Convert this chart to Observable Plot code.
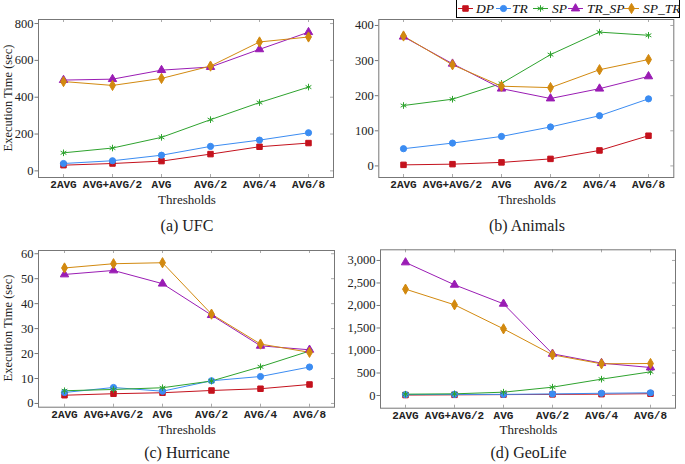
<!DOCTYPE html>
<html><head><meta charset="utf-8">
<script src="https://cdn.jsdelivr.net/npm/d3@7"></script>
<script src="https://cdn.jsdelivr.net/npm/@observablehq/plot@0.6"></script>
<style>
body{margin:0;background:#fff;}
#root{position:relative;width:685px;height:464px;overflow:hidden;font-family:"Liberation Serif",serif;color:#222;}
.panel{position:absolute;}
.lbl{position:absolute;font-size:13px;white-space:nowrap;transform:translate(-50%,-50%);}
.cap{font-size:16px;}
.ylab{font-size:12.5px;transform:translate(-50%,-50%) rotate(-90deg);}
#legend{position:absolute;left:456px;top:0px;}
</style></head><body><div id="root"></div>
<script>
const thresholds = ["2AVG","AVG+AVG/2","AVG","AVG/2","AVG/4","AVG/8"];
const seriesNames = ["DP","TR","SP","TR_SP","SP_TR"];
const seriesColors = ["#c4121d","#3b8cf2","#2ea32e","#9a1cb4","#d2890f"];
const seriesSymbols = ["square","circle","asterisk","triangle","diamond"];

// (a) UFC
const ufcDP   = [31, 40, 53, 91, 131, 151];
const ufcTR   = [40, 55, 85, 133, 167, 207];
const ufcSP   = [98, 124, 182, 278, 371, 455];
const ufcTRSP = [493, 498, 547, 564, 660, 753];
const ufcSPTR = [485, 464, 502, 569, 700, 727];
const ufcTicks = [0, 200, 400, 600, 800];

// (b) Animals
const animalsDP   = [3, 5, 10, 20, 44, 86];
const animalsTR   = [49, 65, 84, 111, 143, 191];
const animalsSP   = [172, 190, 235, 317, 381, 372];
const animalsTRSP = [368, 291, 220, 192, 220, 255];
const animalsSPTR = [370, 288, 227, 223, 274, 303];
const animalsTicks = [0, 100, 200, 300, 400];

// (c) Hurricane
const hurricaneDP   = [3.3, 3.9, 4.3, 5.2, 5.9, 7.6];
const hurricaneTR   = [4.4, 6.4, 4.9, 9.1, 10.8, 14.6];
const hurricaneSP   = [5.1, 5.6, 6.3, 9.0, 14.7, 21.0];
const hurricaneTRSP = [51.7, 53.3, 48.0, 35.4, 23.1, 21.5];
const hurricaneSPTR = [54.3, 56.0, 56.4, 35.8, 23.8, 20.5];
const hurricaneTicks = [0, 10, 20, 30, 40, 50, 60];

// (d) GeoLife
const geolifeDP   = [10, 15, 20, 25, 30, 40];
const geolifeTR   = [20, 25, 25, 35, 50, 60];
const geolifeSP   = [30, 37, 74, 185, 363, 526];
const geolifeTRSP = [2956, 2459, 2037, 926, 719, 622];
const geolifeSPTR = [2363, 2015, 1481, 904, 704, 711];
const geolifeTicks = [0, 500, 1000, 1500, 2000, 2500, 3000];

const root = document.getElementById("root");

function panel(cfg) {
  const rows = [];
  cfg.series.forEach((vals, si) => vals.forEach((v, i) => rows.push({t: thresholds[i], s: seriesNames[si], v})));
  const fw = cfg.width - cfg.ml - cfg.mr, fh = cfg.height - cfg.mt - cfg.mb;
  const svg = Plot.plot({
    width: cfg.width, height: cfg.height,
    marginLeft: cfg.ml, marginRight: cfg.mr, marginTop: cfg.mt, marginBottom: cfg.mb,
    style: {fontFamily: "Liberation Serif", fontSize: "12px", color: "#222", background: "transparent", overflow: "visible"},
    x: {type: "point", domain: thresholds, padding: 0.5},
    y: {domain: cfg.yDomain},
    color: {domain: seriesNames, range: seriesColors},
    symbol: {domain: seriesNames, range: seriesSymbols},
    marks: [
      Plot.tickX(thresholds, {x: d => d, stroke: "#aaa", insetTop: fh - 3}),
      Plot.tickX(thresholds, {x: d => d, stroke: "#aaa", insetBottom: fh - 3}),
      Plot.tickY(cfg.ticks, {y: d => d, stroke: "#aaa", insetLeft: fw - 3}),
      Plot.frame({stroke: "#777"}),
      Plot.axisY({ticks: cfg.ticks, tickSize: 3.5, tickPadding: 1.5, tickFormat: cfg.fmt, label: null, fontSize: 12.5, stroke: "#777"}),
      Plot.axisX({tickSize: 0, tickPadding: 3, label: null, fontFamily: "Liberation Mono", fontWeight: "bold", fontSize: 11}),
      Plot.line(rows, {x: "t", y: "v", z: "s", stroke: "s", strokeWidth: 1}),
      Plot.dot(rows, {x: "t", y: "v", symbol: "s", fill: "s", stroke: "s", strokeWidth: 1, r: 3.1})
    ]
  });
  svg.classList.add("panel");
  svg.style.left = cfg.left + "px";
  svg.style.top = cfg.top + "px";
  svg.style.position = "absolute";
  root.appendChild(svg);
}

function label(text, x, y, cls) {
  const d = document.createElement("div");
  d.className = "lbl " + (cls || "");
  d.textContent = text;
  d.style.left = x + "px";
  d.style.top = y + "px";
  root.appendChild(d);
}

const intFmt = d3.format("d");
const commaFmt = d3.format(",");

panel({series: [ufcDP, ufcTR, ufcSP, ufcTRSP, ufcSPTR], ticks: ufcTicks, fmt: intFmt, yDomain: [-36, 822],
  left: 0, top: 0, width: 342, height: 232, ml: 38, mr: 9, mt: 19, mb: 55});
panel({series: [animalsDP, animalsTR, animalsSP, animalsTRSP, animalsSPTR], ticks: animalsTicks, fmt: intFmt, yDomain: [-33, 417],
  left: 342, top: 0, width: 343, height: 232, ml: 36.3, mr: 11.7, mt: 19, mb: 55});
panel({series: [hurricaneDP, hurricaneTR, hurricaneSP, hurricaneTRSP, hurricaneSPTR], ticks: hurricaneTicks, fmt: intFmt, yDomain: [-1.5, 61.3],
  left: 0, top: 232, width: 342, height: 232, ml: 38, mr: 8, mt: 18, mb: 57.3});
panel({series: [geolifeDP, geolifeTR, geolifeSP, geolifeTRSP, geolifeSPTR], ticks: geolifeTicks, fmt: commaFmt, yDomain: [-282, 3237],
  left: 342, top: 232, width: 343, height: 232, ml: 38, mr: 10, mt: 17.3, mb: 56.3});

label("Thresholds", 187, 199.5);
label("Thresholds", 527, 199.5);
label("Thresholds", 187, 429.5);
label("Thresholds", 528.5, 429.5);
label("(a) UFC", 187, 226, "cap");
label("(b) Animals", 527, 226, "cap");
label("(c) Hurricane", 187, 453, "cap");
label("(d) GeoLife", 528.5, 453, "cap");
label("Execution Time (sec)", 7.5, 98, "ylab");
label("Execution Time (sec)", 7.5, 328, "ylab");

// legend
const symMap = {square: d3.symbolSquare, circle: d3.symbolCircle, asterisk: d3.symbolAsterisk, triangle: d3.symbolTriangle, diamond: d3.symbolDiamond};
const lg = d3.select(root).append("svg").attr("id", "legend").attr("width", 224).attr("height", 18);
lg.append("rect").attr("x", 0.5).attr("y", -1).attr("width", 223).attr("height", 18.5).attr("fill", "#fff").attr("stroke", "#000");
const lx = [2, 40, 77, 112, 168];
const tx = [20, 56, 96, 131, 187];
seriesNames.forEach((s, i) => {
  const g = lg.append("g");
  g.append("line").attr("x1", lx[i]).attr("x2", lx[i] + 15).attr("y1", 8.5).attr("y2", 8.5).attr("stroke", seriesColors[i]);
  g.append("path").attr("transform", `translate(${lx[i] + 7.5},8.5)`)
    .attr("d", d3.symbol(symMap[seriesSymbols[i]], Math.PI * 3.1 * 3.1)())
    .attr("fill", seriesColors[i]).attr("stroke", seriesColors[i]);
  g.append("text").attr("x", tx[i]).attr("y", 13).attr("font-family", "Liberation Serif").attr("font-style", "italic")
    .attr("font-size", 13.5).attr("fill", "#111").text(s);
});
</script></body></html>
